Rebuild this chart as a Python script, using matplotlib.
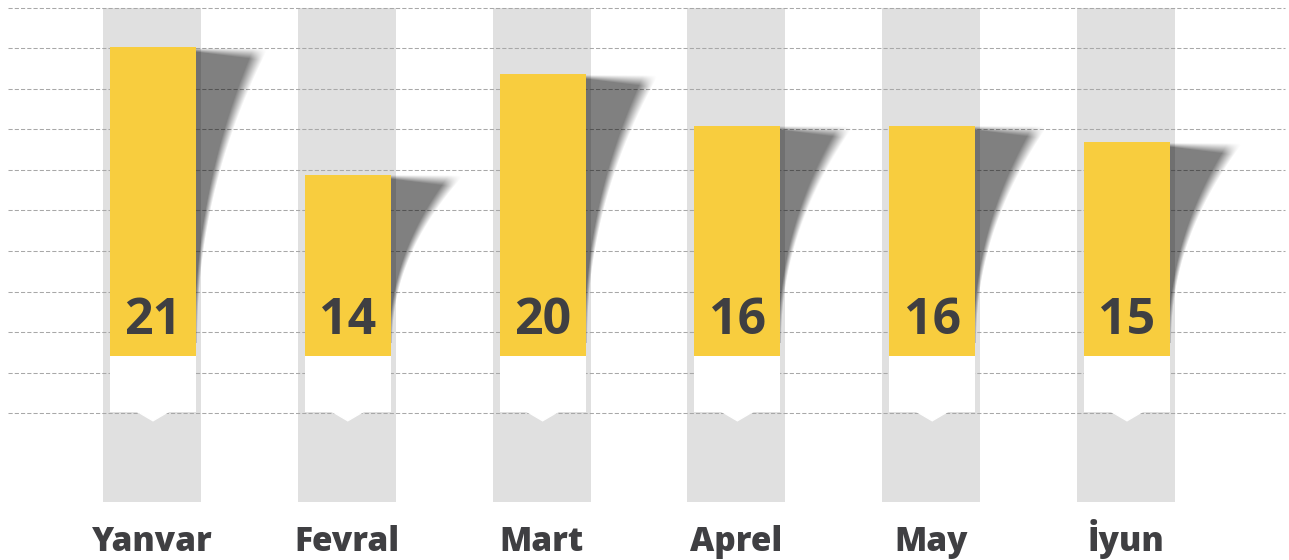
import matplotlib
matplotlib.use('Agg')
import matplotlib.pyplot as plt
from matplotlib.patches import Polygon
import numpy as np

# Dane
months = ['Yanvar', 'Fevral', 'Mart', 'Aprel', 'May', 'İyun']
values = [21, 14, 20, 16, 16, 15]
# wysokości słupków (w jednostkach linii siatki)
bar_tops = [9.04, 5.88, 8.37, 7.09, 7.09, 6.69]

YELLOW = '#f8cd3e'
COLUMN = '#e0e0e0'
TEXT = '#3f3f42'

# skala: 1 jednostka x = 194.8 px, 1 jednostka y = 40.5 px
PX_X = 1 / 194.8
PX_Y = 1 / 40.5

fig = plt.figure(figsize=(12.89, 5.60), dpi=100)
ax = fig.add_axes([0, 0, 1, 1])
ax.axis('off')

x = np.arange(len(months))
bar_bottom = 1.40
box_bottom = 0.03

# szare kolumny w tle
ax.bar(x, 12.2, bottom=-2.2, width=98 * PX_X, color=COLUMN, zorder=1)

# przerywane linie siatki
ax.hlines(np.arange(0, 11), -144 * PX_X, 5.816, colors='#a8a8a8',
          linewidth=0.75, linestyles=(0, (4, 2)), zorder=2)

# żółte słupki i białe pola
offset = 1 * PX_X
bar_w = 86 * PX_X
heights = np.array(bar_tops) - bar_bottom
ax.bar(x + offset, heights, bottom=bar_bottom, width=bar_w, color=YELLOW, zorder=4)
ax.bar(x + offset, bar_bottom - box_bottom, bottom=box_bottom, width=bar_w,
       color='white', zorder=4)
for xi in x:
    c = xi + offset
    tri = Polygon([(c - 16 * PX_X, box_bottom + 0.01), (c + 16 * PX_X, box_bottom + 0.01),
                   (c, box_bottom - 9 * PX_Y)], closed=True, color='white', zorder=4)
    ax.add_patch(tri)

# cienie za słupkami (rozmyta krzywa)
W = 64.0
for xi, top in zip(x, bar_tops):
    right = xi + offset + bar_w / 2
    top_px = 3.0
    shadow_h = (top - 1.75) / PX_Y - top_px
    nx, ny = 95, int(shadow_h + top_px) + 1
    px = np.arange(nx)[None, :] + 0.5
    py = np.arange(ny)[:, None] + 0.5
    s = np.clip((py - top_px) / shadow_h, 0, 1)
    edge = W * (1 - s) ** 2.1
    blur = 3.0 + 12.0 * (1 - s) ** 2
    a = np.clip((edge - px) / blur + 0.5, 0, 1)
    a *= np.clip((py - top_px + 2) / (4.0 + px / 8.0), 0, 1)
    img = np.zeros((ny, nx, 4))
    img[..., 3] = 0.5 * a
    ax.imshow(img, extent=[right, right + nx * PX_X, top - ny * PX_Y, top],
              origin='upper', aspect='auto', interpolation='bilinear', zorder=3)

# etykiety
for xi, v in zip(x, values):
    ax.text(xi + offset, 1.95, str(v), ha='center', va='baseline', fontsize=36,
            fontweight='bold', family='Open Sans', color=TEXT, zorder=5)
for xi, m in zip(x, months):
    ax.text(xi, -3.41, m, ha='center', va='baseline', fontsize=24,
            fontweight='heavy', family='Open Sans', color=TEXT, zorder=5)

ax.set_xlim(-152 * PX_X, (1289 - 152) * PX_X)
ax.set_ylim(-147 * PX_Y, 413 * PX_Y)

plt.savefig('out.png', dpi=100)
plt.close()
